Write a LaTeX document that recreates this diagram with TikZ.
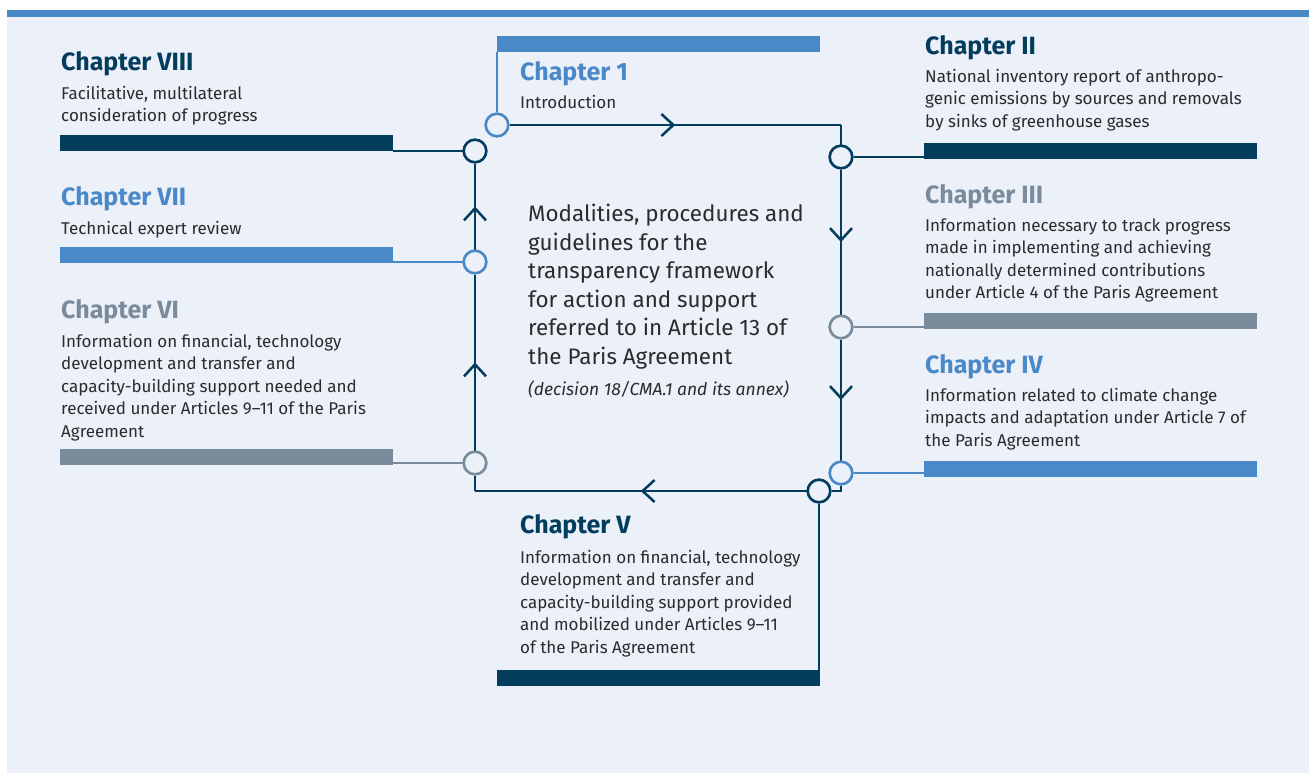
\documentclass[tikz,border=0pt]{standalone}
\usepackage{fontspec}
\setmainfont{Fira Sans}
\usetikzlibrary{arrows.meta,decorations.markings}
\definecolor{navy}{HTML}{023D5E}
\definecolor{midblue}{HTML}{4A89C8}
\definecolor{slate}{HTML}{7A8B9C}
\definecolor{panel}{HTML}{ECF0F9}
\definecolor{txt}{HTML}{2B2B2B}
\begin{document}
\begin{tikzpicture}[x=1pt,y=-1pt,
  bar/.style={fill=#1, draw=none, inner sep=0pt, minimum height=16pt, minimum width=333pt, anchor=north west},
  hub/.style={circle, draw=#1, line width=2.5pt, fill=panel, minimum size=22.5pt, inner sep=0pt},
  loopline/.style={draw=navy, line width=2.6pt},
  link/.style={draw=#1, line width=2pt},
  midarrow/.style={postaction={decorate}, decoration={markings, mark=at position 0.5 with {\arrow{Straight Barb[length=12pt, width=22pt, line width=2.5pt]}}}},
  title/.style={anchor=north west, inner sep=0pt, text=#1, font=\fontsize{25}{29}\selectfont\bfseries},
  body/.style={anchor=north west, inner sep=0pt, align=left, text=txt, font=\fontsize{17}{22.5}\selectfont},
  centertext/.style={anchor=north west, inner sep=0pt, align=left, text=txt, font=\fontsize{22.4}{28.5}\selectfont}
]
\useasboundingbox (0,0) rectangle (1311,773);
\fill[panel] (7,17) rectangle (1309,773);
\fill[midblue] (7,10) rectangle (1309,17);

% bars
\node[bar=midblue, minimum width=323pt] (bar1) at (497,36) {};
\node[bar=navy] (bar8) at (60,135) {};
\node[bar=midblue] (bar7) at (60,247) {};
\node[bar=slate] (bar6) at (60,449) {};
\node[bar=navy] (bar2) at (924,143) {};
\node[bar=slate] (bar3) at (924,313) {};
\node[bar=midblue] (bar4) at (924,461) {};
\node[bar=navy, minimum width=323pt] (bar5) at (497,670) {};

% hubs
\node[hub=midblue] (c1) at (497,125) {};
\node[hub=navy] (c8) at (475,151) {};
\node[hub=midblue] (c7) at (475,262) {};
\node[hub=slate] (c6) at (475,463) {};
\node[hub=navy] (c2) at (841,157) {};
\node[hub=slate] (c3) at (841,327) {};
\node[hub=midblue] (c4) at (841,473) {};
\node[hub=navy] (c5) at (819,491) {};
\coordinate (tr) at (841,125);
\coordinate (bl) at (475,491);

% links
\draw[link=midblue] (c1.north) -- (c1.north |- bar1.south);
\draw[link=navy] (c8.west) -- (c8.west -| bar8.east);
\draw[link=midblue] (c7.west) -- (c7.west -| bar7.east);
\draw[link=slate] (c6.west) -- (c6.west -| bar6.east);
\draw[link=navy] (c2.east) -- (c2.east -| bar2.west);
\draw[link=slate] (c3.east) -- (c3.east -| bar3.west);
\draw[link=midblue] (c4.east) -- (c4.east -| bar4.west);
\draw[link=navy] (c5.south) -- (c5.south |- bar5.south);

% loop
\draw[loopline, midarrow] (c1.east) -- (tr);
\draw[loopline] (tr) -- (c2.north);
\draw[loopline, midarrow] (c2.south) -- (c3.north);
\draw[loopline, midarrow] (c3.south) -- (c4.north);
\draw[loopline] (c4.south) |- (c5.east);
\draw[loopline, midarrow] (c5.west) -- (bl);
\draw[loopline] (bl) -- (c6.south);
\draw[loopline, midarrow] (c6.north) -- (c7.south);
\draw[loopline, midarrow] (c7.north) -- (c8.south);

% redraw hubs on top
\foreach \h/\c in {c1/midblue,c8/navy,c7/midblue,c6/slate,c2/navy,c3/slate,c4/midblue,c5/navy}
  \draw[\c, line width=2.5pt, fill=panel] (\h) circle (11.25pt);

% texts
\node[title=navy] (t8) at (61,51) {Chapter VIII};
\node[body] (b8) at (61,86) {Facilitative, multilateral\\consideration of progress};
\node[title=midblue] (t7) at (61,186) {Chapter VII};
\node[body] (b7) at (61,221) {Technical expert review};
\node[title=slate] (t6) at (61,299) {Chapter VI};
\node[body] (b6) at (61,334) {Information on financial, technology\\development and transfer and\\capacity-building support needed and\\received under Articles 9--11 of the Paris\\Agreement};

\node[title=midblue] (t1) at (520,61) {Chapter 1};
\node[body] (b1) at (520,95) {Introduction};

\node[title=navy] (t2) at (925,35) {Chapter II};
\node[body] (b2) at (925,69) {National inventory report of anthropo-\\genic emissions by sources and removals\\by sinks of greenhouse gases};
\node[title=slate] (t3) at (925,184) {Chapter III};
\node[body] (b3) at (925,218) {Information necessary to track progress\\made in implementing and achieving\\nationally determined contributions\\under Article 4 of the Paris Agreement};
\node[title=midblue] (t4) at (925,354) {Chapter IV};
\node[body] (b4) at (925,388) {Information related to climate change\\impacts and adaptation under Article 7 of\\the Paris Agreement};

\node[title=navy] (t5) at (520,514) {Chapter V};
\node[body] (b5) at (520,550) {Information on financial, technology\\development and transfer and\\capacity-building support provided\\and mobilized under Articles 9--11\\of the Paris Agreement};

\node[centertext] (ctr) at (528,204) {Modalities, procedures and\\guidelines for the\\transparency framework\\for action and support\\referred to in Article 13 of\\the Paris Agreement};
\node[anchor=north west, inner sep=0pt, text=txt, font=\fontsize{17.5}{20}\selectfont\itshape] (dec) at (528,380) {(decision 18/CMA.1 and its annex)};
\end{tikzpicture}
\end{document}
